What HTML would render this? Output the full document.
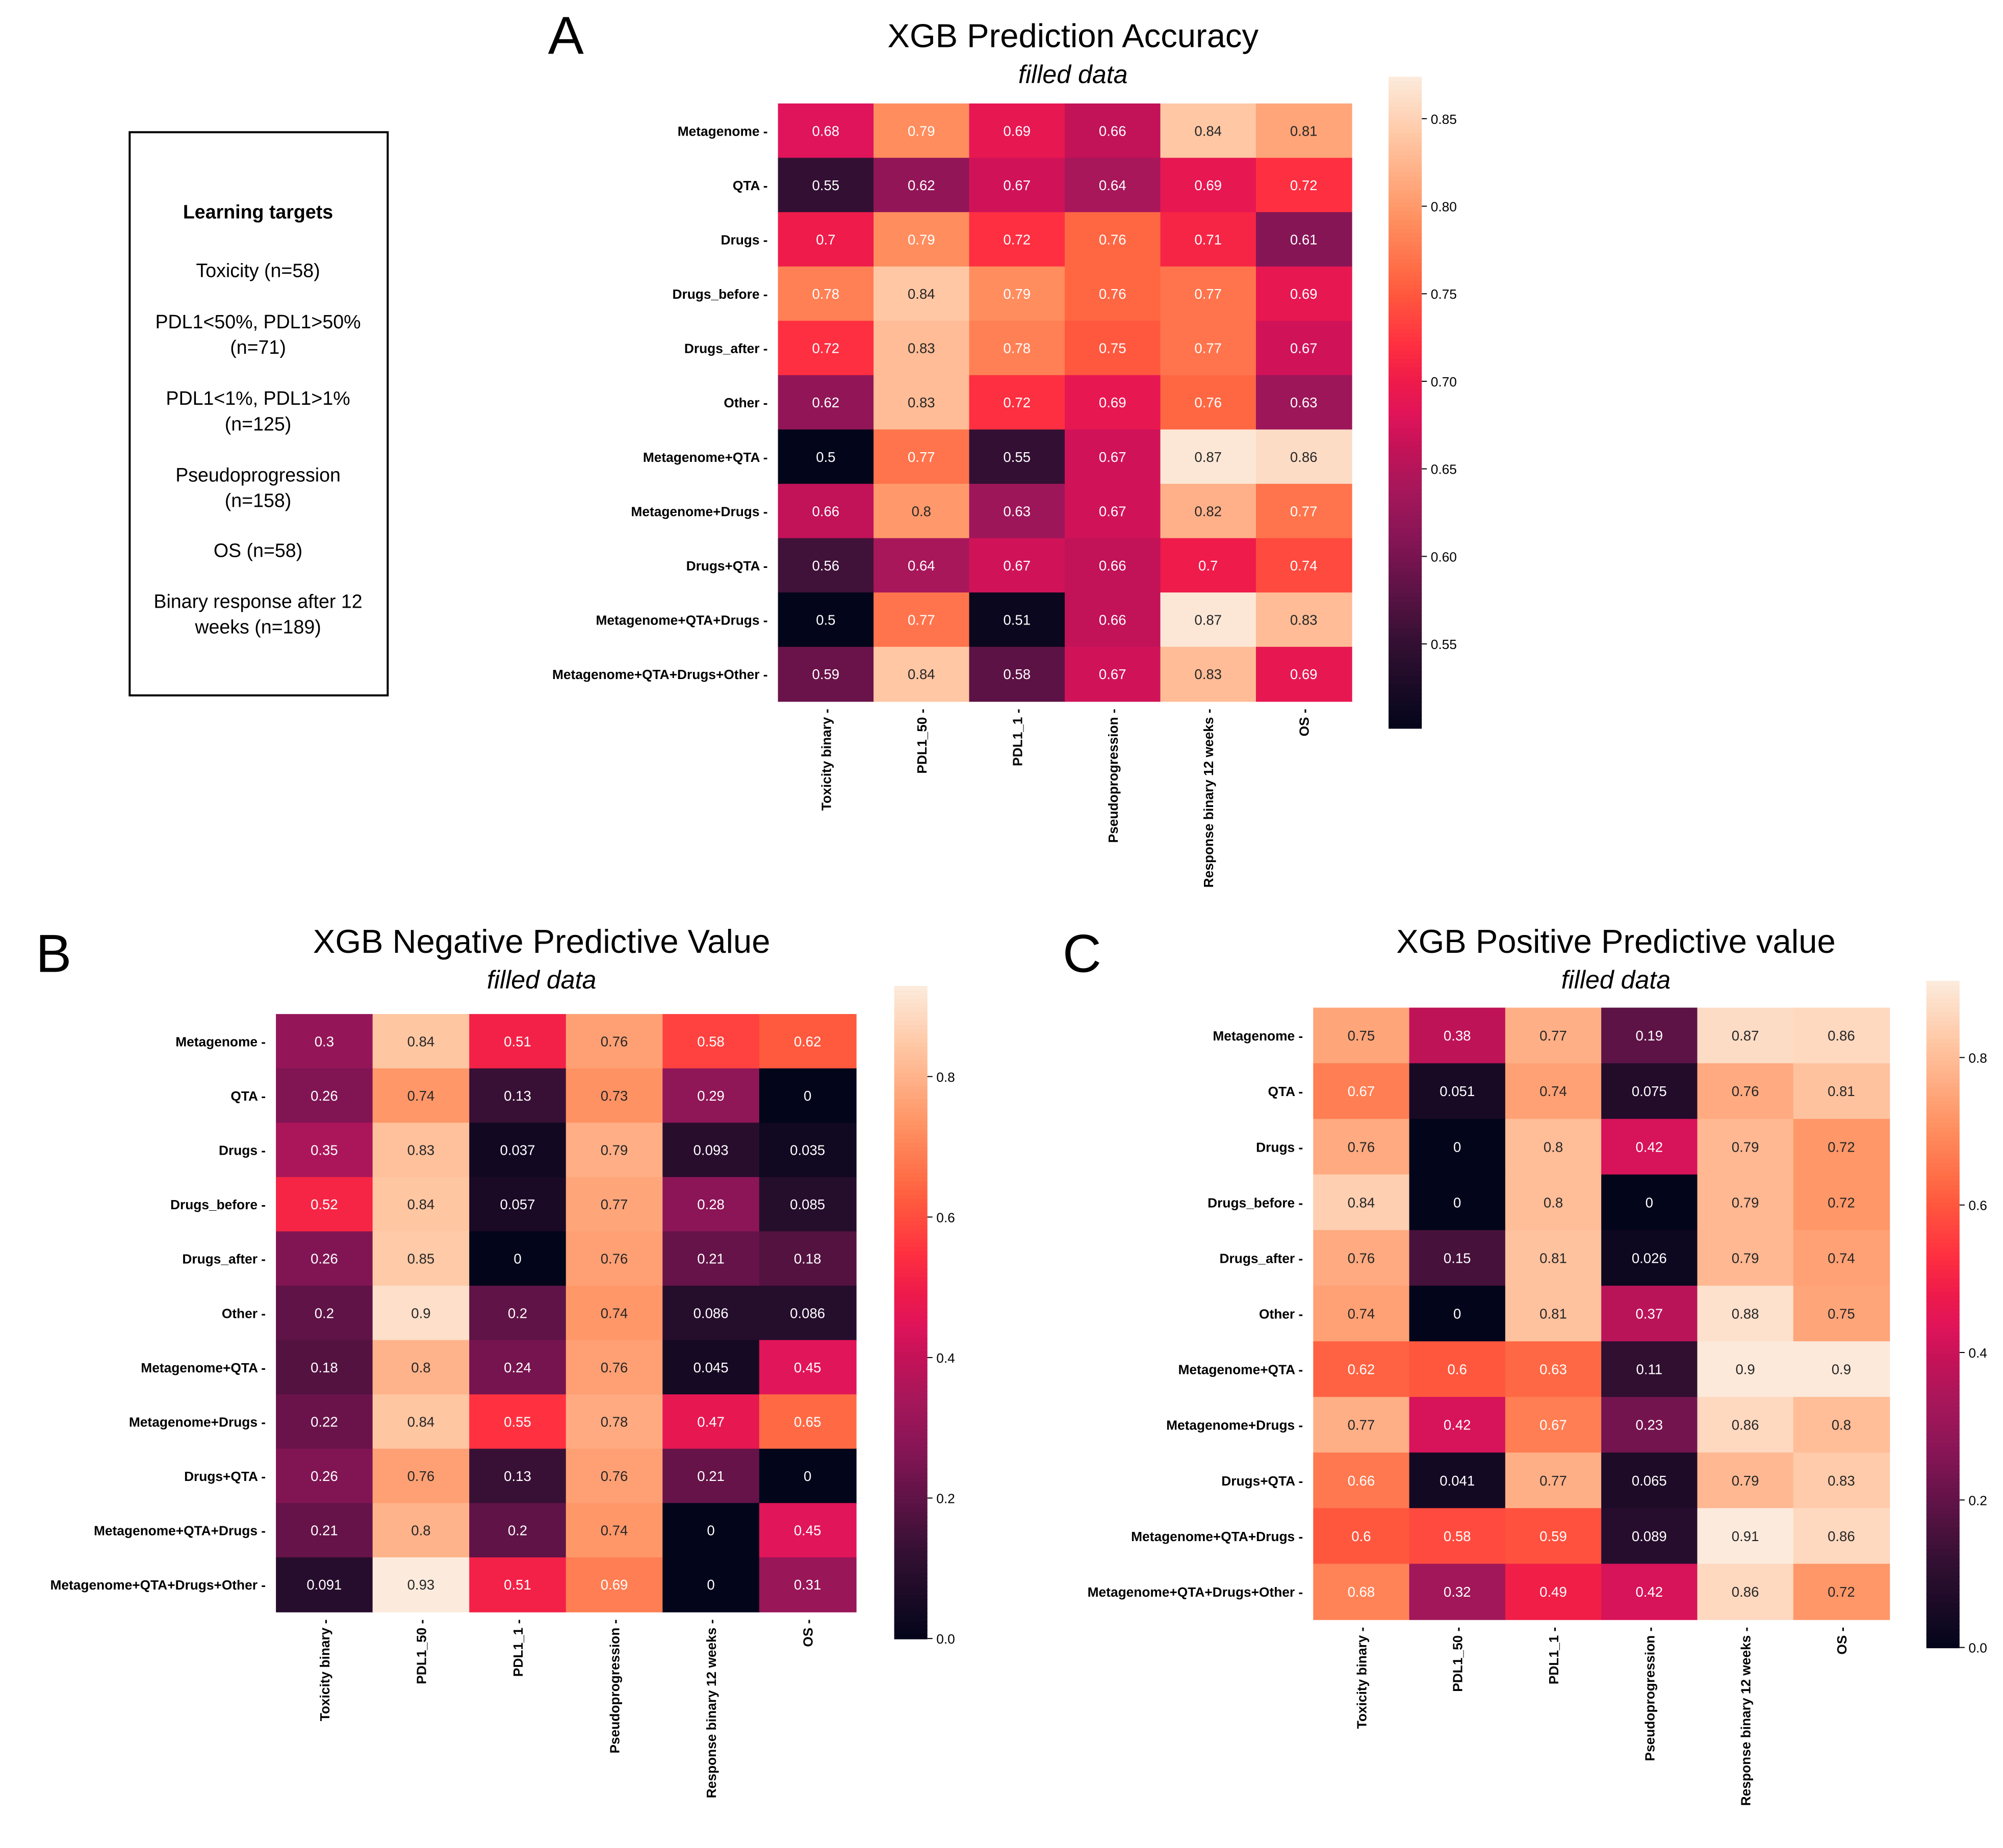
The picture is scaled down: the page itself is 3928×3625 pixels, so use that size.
<!DOCTYPE html>
<html><head><meta charset="utf-8"><style>
html,body{margin:0;padding:0;background:#fff;}
svg{display:block;font-family:"Liberation Sans","DejaVu Sans",sans-serif;}
</style></head><body>
<svg id="fig" width="3928" height="3625" viewBox="0 0 1568 1447" xmlns="http://www.w3.org/2000/svg">
<rect x="0" y="0" width="1568" height="1447" fill="#fff"/>
<g>
<rect x="101.5" y="103.5" width="202" height="441" fill="none" stroke="#000" stroke-width="1.6"/>
<g font-size="15" text-anchor="middle" fill="#000">
<text x="202" y="171" font-weight="bold">Learning targets</text>
<text x="202" y="217">Toxicity (n=58)</text>
<text x="202" y="257">PDL1&lt;50%, PDL1&gt;50%</text>
<text x="202" y="277">(n=71)</text>
<text x="202" y="317">PDL1&lt;1%, PDL1&gt;1%</text>
<text x="202" y="337">(n=125)</text>
<text x="202" y="377">Pseudoprogression</text>
<text x="202" y="397">(n=158)</text>
<text x="202" y="436">OS (n=58)</text>
<text x="202" y="476">Binary response after 12</text>
<text x="202" y="496">weeks (n=189)</text>
</g></g>
</svg>
<script>
const rows = ["Metagenome","QTA","Drugs","Drugs_before","Drugs_after","Other","Metagenome+QTA","Metagenome+Drugs","Drugs+QTA","Metagenome+QTA+Drugs","Metagenome+QTA+Drugs+Other"];
const cols = ["Toxicity binary","PDL1_50","PDL1_1","Pseudoprogression","Response binary 12 weeks","OS"];
const accValues = [
[0.68,0.79,0.69,0.66,0.84,0.81],
[0.55,0.62,0.67,0.64,0.69,0.72],
[0.7,0.79,0.72,0.76,0.71,0.61],
[0.78,0.84,0.79,0.76,0.77,0.69],
[0.72,0.83,0.78,0.75,0.77,0.67],
[0.62,0.83,0.72,0.69,0.76,0.63],
[0.5,0.77,0.55,0.67,0.87,0.86],
[0.66,0.8,0.63,0.67,0.82,0.77],
[0.56,0.64,0.67,0.66,0.7,0.74],
[0.5,0.77,0.51,0.66,0.87,0.83],
[0.59,0.84,0.58,0.67,0.83,0.69]];
const npvValues = [
[0.3,0.84,0.51,0.76,0.58,0.62],
[0.26,0.74,0.13,0.73,0.29,0],
[0.35,0.83,0.037,0.79,0.093,0.035],
[0.52,0.84,0.057,0.77,0.28,0.085],
[0.26,0.85,0,0.76,0.21,0.18],
[0.2,0.9,0.2,0.74,0.086,0.086],
[0.18,0.8,0.24,0.76,0.045,0.45],
[0.22,0.84,0.55,0.78,0.47,0.65],
[0.26,0.76,0.13,0.76,0.21,0],
[0.21,0.8,0.2,0.74,0,0.45],
[0.091,0.93,0.51,0.69,0,0.31]];
const ppvValues = [
[0.75,0.38,0.77,0.19,0.87,0.86],
[0.67,0.051,0.74,0.075,0.76,0.81],
[0.76,0,0.8,0.42,0.79,0.72],
[0.84,0,0.8,0,0.79,0.72],
[0.76,0.15,0.81,0.026,0.79,0.74],
[0.74,0,0.81,0.37,0.88,0.75],
[0.62,0.6,0.63,0.11,0.9,0.9],
[0.77,0.42,0.67,0.23,0.86,0.8],
[0.66,0.041,0.77,0.065,0.79,0.83],
[0.6,0.58,0.59,0.089,0.91,0.86],
[0.68,0.32,0.49,0.42,0.86,0.72]];
const accTicks = [0.55,0.60,0.65,0.70,0.75,0.80,0.85];
const npvTicks = [0.0,0.2,0.4,0.6,0.8];
const ppvTicks = [0.0,0.2,0.4,0.6,0.8];

const NS="http://www.w3.org/2000/svg";
const svg=document.getElementById('fig');
const stops=[[0,[3,5,26]],[0.13,[51,16,51]],[0.29,[134,21,86]],[0.37,[168,23,90]],[0.43,[196,18,88]],[0.48,[224,20,90]],[0.53,[238,26,74]],[0.59,[255,48,64]],[0.67,[255,90,62]],[0.70,[255,106,69]],[0.78,[255,144,96]],[0.91,[255,200,165]],[1,[252,235,221]]];
function cmap(t){t=Math.max(0,Math.min(1,t));for(let i=1;i<stops.length;i++){if(t<=stops[i][0]){const a=stops[i-1],b=stops[i];const f=(t-a[0])/(b[0]-a[0]);return a[1].map((v,k)=>Math.round(v+(b[1][k]-v)*f));}}return stops[stops.length-1][1];}
function el(tag,attrs,parent){const e=document.createElementNS(NS,tag);for(const k in attrs)e.setAttribute(k,attrs[k]);(parent||svg).appendChild(e);return e;}
function fmt(v){return String(+v.toPrecision(2));}

function heatmap(cfg){
const g=el('g',{});


const cw=(cfg.x1-cfg.x0)/cols.length, rh=(cfg.y1-cfg.y0)/rows.length;
const xs=j=>cfg.x0+j*cw, ys=i=>cfg.y0+i*rh;
const norm=v=>(v-cfg.vmin)/(cfg.vmax-cfg.vmin);
cfg.data.forEach((row,i)=>row.forEach((v,j)=>{
const t0=norm(v);
const c=cmap(t0);
const r=el('rect',{x:xs(j),y:ys(i),width:cw+0.5,height:rh+0.5,fill:`rgb(${c})`},g);


const t=el('text',{x:xs(j)+cw/2,y:ys(i)+rh/2+4,'text-anchor':'middle','font-size':11,fill:t0>0.776?'#262626':'#fff'},g);
t.textContent=fmt(v);


}));
rows.forEach((r,i)=>{
const t=el('text',{x:cfg.x0-8,y:ys(i)+rh/2+4,'text-anchor':'end','font-size':10.5,'font-weight':'bold',fill:'#000'},g);
t.textContent=r+' -';


});
cols.forEach((c,j)=>{
const cx=xs(j)+cw/2+4, cy=cfg.y1+6;
const t=el('text',{x:cx,y:cy,'text-anchor':'end','font-size':10.5,'font-weight':'bold',fill:'#000',transform:`rotate(-90 ${cx} ${cy})`},g);
t.textContent=c+' -';


});
const cb=el('g',{},g);


const n=150,bh=(cfg.cb1-cfg.cb0)/n;
for(let k=0;k<n;k++){const t=1-(k+0.5)/n;const c=cmap(t);el('rect',{x:cfg.cbx,y:cfg.cb0+k*bh,width:26,height:bh+0.6,fill:`rgb(${c})`},cb);}
const cy=v=>cfg.cb1-(v-cfg.vmin)/(cfg.vmax-cfg.vmin)*(cfg.cb1-cfg.cb0);
cfg.ticks.forEach(v=>{
el('line',{x1:cfg.cbx+26,x2:cfg.cbx+30,y1:cy(v),y2:cy(v),stroke:'#000','stroke-width':0.8},cb);
const t=el('text',{x:cfg.cbx+33,y:cy(v)+4,'font-size':10.5,fill:'#000'},cb);
t.textContent=v.toFixed(cfg.dec);


});
const ti=el('text',{x:cfg.tx,y:cfg.ty,'text-anchor':'middle','font-size':26,fill:'#000'},g);
ti.textContent=cfg.title;


const st=el('text',{x:cfg.tx,y:cfg.ty+28,'text-anchor':'middle','font-size':20,'font-style':'italic',fill:'#000'},g);
st.textContent='filled data';


const L=el('text',{x:cfg.lx,y:cfg.ly,'text-anchor':'middle','font-size':42,fill:'#000'},g);
L.textContent=cfg.letter;


}
heatmap({name:'heatmap-accuracy',data:accValues,x0:609,x1:1058,y0:81,y1:549,vmin:0.502,vmax:0.874,cbx:1087,cb0:60,cb1:570,ticks:accTicks,dec:2,title:'XGB Prediction Accuracy',tx:840,ty:37,letter:'A',lx:443,ly:42});
heatmap({name:'heatmap-npv',data:npvValues,x0:216,x1:670,y0:794,y1:1262,vmin:0,vmax:0.929,cbx:700,cb0:772,cb1:1283,ticks:npvTicks,dec:1,title:'XGB Negative Predictive Value',tx:424,ty:746,letter:'B',lx:42,ly:761});
heatmap({name:'heatmap-ppv',data:ppvValues,x0:1028,x1:1479,y0:789,y1:1268,vmin:0,vmax:0.904,cbx:1508,cb0:768,cb1:1290,ticks:ppvTicks,dec:1,title:'XGB Positive Predictive value',tx:1265,ty:746,letter:'C',lx:847,ly:761});
</script>
</body></html>
